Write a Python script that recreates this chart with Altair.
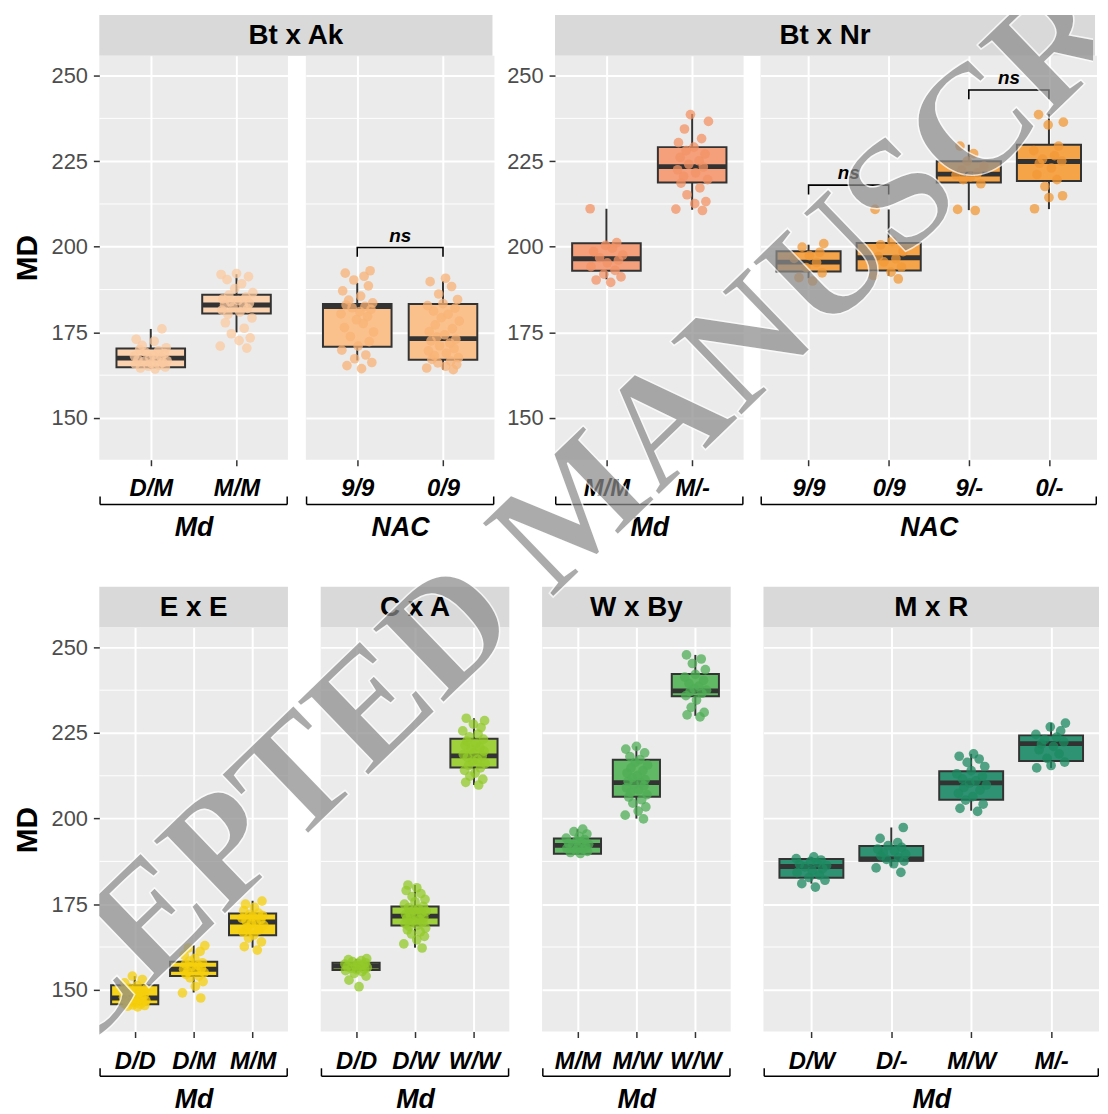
import json
import altair as alt
import pandas as pd

FONT = "Liberation Sans"
Y_DOMAIN = [137.8, 255.8]
Y_TICKS = [150, 175, 200, 225, 250]
Y_MINOR = [162.5, 187.5, 212.5, 237.5]
JITTER = [0.05, -0.12, 0.17, -0.03, 0.10, -0.18, 0.01, 0.14, -0.08, 0.19,
          -0.15, 0.07, -0.01, 0.12, -0.19, 0.03, 0.16, -0.06, 0.09, -0.13,
          0.18, -0.10, 0.04, -0.17, 0.13, -0.04, 0.08, -0.14, 0.15, -0.07,
          0.02, -0.16, 0.11, -0.09, 0.19, -0.02, 0.06, -0.11, 0.14, -0.18,
          0.00, 0.17, -0.05, 0.10, -0.15, 0.03, -0.12, 0.16, -0.08, 0.07,
          -0.19, 0.12, -0.01, 0.18, -0.13, 0.05, -0.10, 0.09, -0.16, 0.13]
WATERMARK = "ACCEPTED MANUSCRIPT"

# ---------------- Bt x Ak ----------------
AK_MD_CATS = ["D/M", "M/M"]
AK_MD_LOW = [164.3, 175.0]
AK_MD_Q1 = [164.8, 180.5]
AK_MD_MED = [167.5, 183.0]
AK_MD_Q3 = [170.3, 186.0]
AK_MD_HIGH = [176.0, 192.0]
AK_MD_PTS_DM = [164.3, 164.6, 164.9, 165.1, 165.4, 165.7, 165.9, 166.2, 166.5, 166.7, 167.0, 167.3, 167.5,
                167.8, 168.1, 168.4, 168.8, 169.2, 169.6, 170.0, 170.5, 171.2, 172.4, 173.0, 176.0]
AK_MD_PTS_MM = [170.4, 171.0, 172.6, 173.4, 174.6, 176.2, 177.8, 179.2, 180.3, 180.9, 181.5, 182.0, 182.4, 182.8,
                183.1, 183.5, 183.9, 184.3, 184.8, 185.3, 185.9, 186.6, 187.8, 189.2, 190.4, 191.3, 191.9, 192.2]

AK_NAC_CATS = ["9/9", "0/9"]
AK_NAC_LOW = [166.8, 164.1]
AK_NAC_Q1 = [170.8, 167.0]
AK_NAC_MED = [182.5, 173.2]
AK_NAC_Q3 = [183.3, 183.3]
AK_NAC_HIGH = [189.5, 190.0]
AK_NAC_PTS_99 = [164.4, 165.3, 166.2, 167.3, 168.4, 169.8, 171.0, 172.3, 173.8, 175.1, 176.4, 177.6, 178.7, 179.6,
                 180.4, 181.1, 181.7, 182.2, 182.6, 183.0, 183.6, 184.4, 185.6, 187.1, 188.6, 190.3, 191.4, 192.3, 193.0]
AK_NAC_PTS_09 = [164.1, 164.6, 165.1, 165.6, 166.1, 166.6, 167.1, 167.6, 168.2, 168.9, 169.6, 170.3, 171.1, 171.9,
                 172.5, 173.0, 173.6, 174.3, 175.2, 176.1, 177.2, 178.3, 179.3, 180.3, 181.2, 182.1, 182.8, 183.4,
                 184.6, 186.2, 188.4, 189.8, 190.8]
AK_NAC_NS = [["9/9", "0/9", 199.8]]

# ---------------- Bt x Nr ----------------
NR_MD_CATS = ["M/M", "M/-"]
NR_MD_LOW = [190.5, 210.8]
NR_MD_Q1 = [193.0, 218.8]
NR_MD_MED = [196.5, 223.4]
NR_MD_Q3 = [201.0, 229.1]
NR_MD_HIGH = [211.1, 238.8]
NR_MD_PTS_MM = [189.6, 190.3, 191.2, 192.0, 193.1, 194.2, 195.3, 196.1, 196.8, 197.6, 198.6, 199.6, 200.4, 201.2, 211.1]
NR_MD_PTS_MX = [210.6, 211.0, 212.6, 213.2, 215.2, 217.2, 218.6, 219.6, 220.6, 221.6, 222.5, 223.3, 224.1, 225.1,
                226.1, 227.1, 228.1, 229.1, 230.4, 231.6, 234.4, 236.6, 238.6]

NR_NAC_CATS = ["9/9", "0/9", "9/-", "0/-"]
NR_NAC_LOW = [190.8, 191.5, 210.7, 211.0]
NR_NAC_Q1 = [192.8, 193.1, 218.8, 219.2]
NR_NAC_MED = [195.5, 196.8, 221.2, 224.9]
NR_NAC_Q3 = [198.7, 201.1, 225.0, 229.8]
NR_NAC_HIGH = [200.6, 210.9, 229.8, 238.8]
NR_NAC_PTS_99 = [190.0, 191.0, 192.4, 193.9, 195.4, 196.6, 197.4, 198.4, 199.9, 200.9]
NR_NAC_PTS_09 = [190.6, 191.6, 192.6, 194.1, 195.6, 196.5, 197.1, 198.6, 200.6, 201.6, 210.9]
NR_NAC_PTS_9X = [210.6, 210.9, 218.4, 219.6, 220.4, 221.0, 221.6, 222.4, 223.6, 225.0, 227.2, 229.4]
NR_NAC_PTS_0X = [211.1, 214.4, 214.9, 217.6, 219.6, 221.1, 223.0, 224.4, 225.0, 225.6, 226.6, 228.1, 229.4,
                 235.6, 236.4, 238.6]
NR_NAC_NS = [["9/9", "0/9", 218.0], ["9/-", "0/-", 245.8]]

# ---------------- E x E ----------------
EE_CATS = ["D/D", "D/M", "M/M"]
EE_LOW = [145.0, 149.2, 162.3]
EE_Q1 = [145.8, 154.0, 165.9]
EE_MED = [147.6, 156.0, 169.8]
EE_Q3 = [151.3, 158.2, 172.3]
EE_HIGH = [154.0, 163.0, 176.0]
EE_PTS_DD = [145.0, 145.2, 145.4, 145.6, 145.8, 146.0, 146.2, 146.4, 146.6, 146.8, 147.0, 147.2, 147.4, 147.6,
             147.8, 148.1, 148.4, 148.8, 149.2, 149.6, 150.1, 150.6, 151.2, 152.0, 153.0, 154.0]
EE_PTS_DM = [147.6, 149.1, 151.0, 152.4, 153.5, 154.0, 154.5, 155.0, 155.3, 155.7, 156.0, 156.3, 156.7, 157.1,
             157.5, 157.9, 158.4, 159.2, 160.1, 161.2, 162.2, 162.9]
EE_PTS_MM = [161.6, 162.6, 164.0, 165.1, 166.0, 166.8, 167.5, 168.2, 168.8, 169.3, 169.7, 170.1, 170.5, 170.9,
             171.3, 171.7, 172.0, 172.4, 173.1, 174.1, 175.0, 175.9]

# ---------------- C x A ----------------
CA_CATS = ["D/D", "D/W", "W/W"]
CA_LOW = [155.0, 162.3, 209.8]
CA_Q1 = [155.8, 168.8, 214.9]
CA_MED = [156.9, 171.5, 218.3]
CA_Q3 = [157.9, 174.3, 223.3]
CA_HIGH = [159.0, 180.6, 229.3]
CA_PTS_DD = [150.9, 152.8, 154.0, 154.8, 155.3, 155.6, 155.9, 156.1, 156.3, 156.5, 156.7, 156.9, 157.1, 157.3,
             157.5, 157.7, 157.9, 158.2, 158.5, 158.8, 159.1]
CA_PTS_DW = [162.2, 163.4, 164.6, 165.6, 166.3, 166.9, 167.5, 168.0, 168.5, 168.9, 169.3, 169.7, 170.1, 170.5,
             170.8, 171.1, 171.4, 171.7, 172.0, 172.3, 172.6, 172.9, 173.2, 173.6, 174.0, 174.4, 175.0, 175.7,
             176.4, 177.2, 178.1, 179.0, 179.8, 180.6]
CA_PTS_WW = [209.8, 210.6, 211.5, 212.4, 213.3, 214.1, 214.8, 215.5, 216.1, 216.7, 217.3, 217.9, 218.3, 218.7,
             219.2, 219.7, 220.2, 220.8, 221.4, 222.0, 222.6, 223.2, 223.9, 224.7, 225.6, 226.6, 227.6, 228.6, 229.3]

# ---------------- W x By ----------------
WB_CATS = ["M/M", "M/W", "W/W"]
WB_LOW = [189.7, 200.0, 230.0]
WB_Q1 = [189.7, 206.4, 235.7]
WB_MED = [192.2, 210.5, 237.3]
WB_Q3 = [194.2, 217.2, 242.2]
WB_HIGH = [196.9, 221.1, 247.8]
WB_PTS_MM = [189.8, 190.1, 190.4, 190.7, 191.0, 191.3, 191.6, 191.9, 192.2, 192.5, 192.8, 193.1, 193.5, 193.9,
             194.3, 194.8, 195.5, 196.2, 196.9]
WB_PTS_MW = [199.9, 201.0, 202.2, 203.4, 204.5, 205.5, 206.3, 207.0, 207.7, 208.4, 209.0, 209.6, 210.1, 210.5,
             210.9, 211.4, 212.0, 212.6, 213.3, 214.0, 214.8, 215.6, 216.4, 217.2, 218.1, 219.2, 220.3, 221.1]
WB_PTS_WW = [229.7, 230.3, 231.0, 232.5, 234.6, 235.9, 236.6, 237.1, 237.5, 238.0, 238.7, 239.5, 240.4, 241.3,
             242.1, 243.5, 245.3, 246.6, 247.8]

# ---------------- M x R ----------------
MR_CATS = ["D/W", "D/-", "M/W", "M/-"]
MR_LOW = [181.0, 186.0, 202.3, 214.8]
MR_Q1 = [182.7, 187.7, 205.5, 216.8]
MR_MED = [186.0, 188.2, 210.4, 221.9]
MR_Q3 = [188.2, 192.0, 213.8, 224.3]
MR_HIGH = [188.8, 197.4, 218.9, 227.9]
MR_PTS_DW = [180.0, 181.0, 182.0, 182.8, 183.5, 184.2, 184.8, 185.4, 185.9, 186.3, 186.7, 187.1, 187.5, 187.9,
             188.3, 188.8]
MR_PTS_DX = [184.3, 185.6, 186.8, 187.6, 188.1, 188.6, 189.1, 189.6, 190.1, 190.6, 191.1, 191.6, 192.1, 193.0,
             194.2, 197.4]
MR_PTS_MW = [202.1, 203.0, 204.2, 205.4, 206.4, 207.4, 208.3, 209.1, 209.8, 210.4, 211.0, 211.6, 212.3, 213.1,
             214.0, 215.2, 216.4, 217.4, 218.2, 218.9]
MR_PTS_MX = [214.8, 215.5, 216.5, 217.6, 218.9, 220.1, 221.1, 221.8, 222.4, 223.1, 223.8, 224.6, 225.6, 226.8, 227.9]

# colours: (box fill, points)
COL_AK_MD = ("#fcd3b0", "#fbc9a0")
COL_AK_NAC = ("#fbc18c", "#f8b377")
COL_NR_MD = ("#f5a07c", "#f39366")
COL_NR_NAC = ("#f5a449", "#f29a38")
COL_EE = ("#f6d219", "#f5cf0c")
COL_CA = ("#9fd13c", "#93ca2a")
COL_WB = ("#62b965", "#4fae56")
COL_MR = ("#2f9373", "#1d8a62")

STRIP_H = 41
DARK = "#333333"
BOX_HALF = 0.4
MED_HALF = 0.7


def panel(cats, low, q1, med, q3, high, pts, colors, width, height, xtitle, ymode, brackets=(),
          label_pad=11, title_pad=14, title_size=27, bracket_off=45):
    box_col, pt_col = colors
    n = len(cats)
    idx = list(range(1, n + 1))
    box = pd.DataFrame({"i": idx, "low": low, "q1": q1, "med": med, "q3": q3, "high": high})
    rows = []
    for ci, vals in enumerate(pts):
        for k, v in enumerate(vals):
            rows.append({"i": ci + 1, "val": v, "jit": JITTER[(k + 13 * ci) % len(JITTER)]})
    ptdf = pd.DataFrame(rows)

    xs = alt.Scale(domain=[0.4, n + 0.6], nice=False, zero=False)
    ys = alt.Scale(domain=Y_DOMAIN, nice=False, zero=False)
    xa = alt.Axis(title=xtitle, values=idx, labelExpr=json.dumps(cats) + "[datum.value - 1]",
                  labelAngle=0, labelFont=FONT, labelFontSize=24, labelFontWeight="bold",
                  labelFontStyle="italic", labelColor="black", labelPadding=label_pad, labelOverlap=False,
                  labelFlush=False, tickSize=6, tickColor=DARK, tickWidth=1.5, domain=False, grid=True,
                  gridColor="white", gridWidth=2, titleFont=FONT, titleFontSize=title_size,
                  titleFontWeight="bold", titleFontStyle="italic", titleColor="black", titlePadding=title_pad)
    if ymode == "none":
        ya = alt.Axis(values=Y_TICKS, grid=True, gridColor="white", gridWidth=2, labels=False, ticks=False,
                      domain=False, title=None)
    else:
        ya = alt.Axis(values=Y_TICKS, grid=True, gridColor="white", gridWidth=2, labels=True, ticks=True,
                      tickSize=6, tickColor=DARK, tickWidth=1.5, domain=False, labelFont=FONT,
                      labelFontSize=22, labelColor="#4d4d4d", labelPadding=6,
                      title=("MD" if ymode == "title" else None), titleFont=FONT, titleFontSize=30,
                      titleFontWeight="bold", titleColor="black", titlePadding=9)

    def X(f):
        return alt.X(f, type="quantitative", scale=xs, axis=xa)

    def Y(f):
        return alt.Y(f, type="quantitative", scale=ys, axis=ya)

    minor = alt.Chart(pd.DataFrame({"y": Y_MINOR})).mark_rule(color="white", strokeWidth=1).encode(y=Y("y"))
    whisk = alt.Chart(box).mark_rule(color=DARK, strokeWidth=2).encode(x=X("i"), y=Y("low"), y2="high:Q")
    boxes = (alt.Chart(box)
             .transform_calculate(xl="datum.i - %f" % BOX_HALF, xr="datum.i + %f" % BOX_HALF)
             .mark_rect(fill=box_col, stroke=DARK, strokeWidth=2)
             .encode(x=X("xl"), x2="xr:Q", y=Y("q1"), y2="q3:Q"))
    meds = (alt.Chart(box)
            .transform_calculate(xl="datum.i - %f" % BOX_HALF, xr="datum.i + %f" % BOX_HALF,
                                 mlo="datum.med - %f" % MED_HALF, mhi="datum.med + %f" % MED_HALF)
            .mark_rect(color=DARK).encode(x=X("xl"), x2="xr:Q", y=Y("mlo"), y2="mhi:Q"))
    points = (alt.Chart(ptdf)
              .transform_calculate(xp="datum.i + datum.jit")
              .mark_circle(size=95, color=pt_col, opacity=0.75)
              .encode(x=X("xp"), y=Y("val")))
    layers = [minor, whisk, boxes, meds, points]

    if brackets:
        brows, trows = [], []
        for bi, (c1, c2, yb) in enumerate(brackets):
            i1, i2 = cats.index(c1) + 1, cats.index(c2) + 1
            brows += [{"b": bi, "o": 0, "bx": i1, "by": yb - 2.7},
                      {"b": bi, "o": 1, "bx": i1, "by": yb},
                      {"b": bi, "o": 2, "bx": i2, "by": yb},
                      {"b": bi, "o": 3, "bx": i2, "by": yb - 2.7}]
            trows.append({"tx": (i1 + i2) / 2, "ty": yb + 3.4, "t": "ns"})
        bline = (alt.Chart(pd.DataFrame(brows)).mark_line(color="black", strokeWidth=1.6)
                 .encode(x=X("bx"), y=Y("by"), order="o:Q", detail="b:N"))
        btext = (alt.Chart(pd.DataFrame(trows))
                 .mark_text(font=FONT, fontSize=19, fontWeight="bold", fontStyle="italic", color="black",
                            baseline="middle")
                 .encode(x=X("tx"), y=Y("ty"), text="t:N"))
        layers += [bline, btext]

    deco = pd.DataFrame({"k": [0]})
    yb = height + bracket_off
    hline = alt.Chart(deco).mark_rule(color="black", strokeWidth=1.5).encode(
        x=alt.value(0.75), x2=alt.value(width - 0.75), y=alt.value(yb))
    lt = alt.Chart(deco).mark_rule(color="black", strokeWidth=1.5).encode(
        x=alt.value(0.75), y=alt.value(yb - 8), y2=alt.value(yb))
    rt = alt.Chart(deco).mark_rule(color="black", strokeWidth=1.5).encode(
        x=alt.value(width - 0.75), y=alt.value(yb - 8), y2=alt.value(yb))
    layers += [hline, lt, rt]
    return alt.layer(*layers).properties(width=width, height=height)


def strip(label, width):
    return (alt.Chart(pd.DataFrame({"label": [label]}))
            .mark_text(font=FONT, fontSize=28, fontWeight="bold", color="black", baseline="middle", align="center")
            .encode(text="label:N", x=alt.value(width / 2), y=alt.value(STRIP_H / 2 + 1))
            .properties(width=width, height=STRIP_H, view=alt.ViewBackground(fill="#d9d9d9", stroke=None)))


W2 = 190
W4T = 339
W4B = 338
HT = 407
HB = 407
BOT = dict(label_pad=12, title_pad=13, title_size=27, bracket_off=45)

pA1 = panel(AK_MD_CATS, AK_MD_LOW, AK_MD_Q1, AK_MD_MED, AK_MD_Q3, AK_MD_HIGH,
            [AK_MD_PTS_DM, AK_MD_PTS_MM], COL_AK_MD, W2, HT, "Md", "title")
pA2 = panel(AK_NAC_CATS, AK_NAC_LOW, AK_NAC_Q1, AK_NAC_MED, AK_NAC_Q3, AK_NAC_HIGH,
            [AK_NAC_PTS_99, AK_NAC_PTS_09], COL_AK_NAC, W2, HT, "NAC", "none", AK_NAC_NS)
pB1 = panel(NR_MD_CATS, NR_MD_LOW, NR_MD_Q1, NR_MD_MED, NR_MD_Q3, NR_MD_HIGH,
            [NR_MD_PTS_MM, NR_MD_PTS_MX], COL_NR_MD, W2, HT, "Md", "labels")
pB2 = panel(NR_NAC_CATS, NR_NAC_LOW, NR_NAC_Q1, NR_NAC_MED, NR_NAC_Q3, NR_NAC_HIGH,
            [NR_NAC_PTS_99, NR_NAC_PTS_09, NR_NAC_PTS_9X, NR_NAC_PTS_0X], COL_NR_NAC, W4T, HT, "NAC", "none",
            NR_NAC_NS)

pE = panel(EE_CATS, EE_LOW, EE_Q1, EE_MED, EE_Q3, EE_HIGH, [EE_PTS_DD, EE_PTS_DM, EE_PTS_MM],
           COL_EE, W2, HB, "Md", "title", **BOT)
pC = panel(CA_CATS, CA_LOW, CA_Q1, CA_MED, CA_Q3, CA_HIGH, [CA_PTS_DD, CA_PTS_DW, CA_PTS_WW],
           COL_CA, W2, HB, "Md", "none", **BOT)
pW = panel(WB_CATS, WB_LOW, WB_Q1, WB_MED, WB_Q3, WB_HIGH, [WB_PTS_MM, WB_PTS_MW, WB_PTS_WW],
           COL_WB, W2, HB, "Md", "none", **BOT)
pM = panel(MR_CATS, MR_LOW, MR_Q1, MR_MED, MR_Q3, MR_HIGH, [MR_PTS_DW, MR_PTS_DX, MR_PTS_MW, MR_PTS_MX],
           COL_MR, W4B, HB, "Md", "none", **BOT)

gA = alt.vconcat(strip("Bt x Ak", W2 + 16 + W2), alt.hconcat(pA1, pA2, spacing=16), spacing=0)
gB = alt.vconcat(strip("Bt x Nr", W2 + 15 + W4T), alt.hconcat(pB1, pB2, spacing=15), spacing=0)
gE = alt.vconcat(strip("E x E", W2), pE, spacing=0)
gC = alt.vconcat(strip("C x A", W2), pC, spacing=0)
gW = alt.vconcat(strip("W x By", W2), pW, spacing=0)
gM = alt.vconcat(strip("M x R", W4B), pM, spacing=0)

row_top = alt.hconcat(gA, gB, spacing=11)
row_bottom = alt.hconcat(gE, gC, gW, gM, spacing=31)
main = alt.vconcat(row_top, row_bottom, spacing=47)

# diagonal "ACCEPTED MANUSCRIPT" watermark laid over the figure (flush bounds -> same origin)
WM_W, WM_H = 1001, 1097
wm = (alt.Chart(pd.DataFrame({"t": [WATERMARK]}))
      .mark_text(font="Liberation Serif", fontSize=158, fontWeight="bold", angle=316, align="center",
                 baseline="middle", color="#8c8c8c", opacity=0.72, stroke="white", strokeWidth=1.5, clip=True)
      .encode(text="t:N", x=alt.value(481), y=alt.value(498))
      .properties(width=WM_W, height=WM_H,
                  view=alt.ViewBackground(fill="transparent", stroke="transparent", strokeWidth=0)))

chart = (alt.vconcat(main, wm, spacing=0, bounds="flush")
         .properties(padding={"left": 4, "top": 3, "right": 0, "bottom": 0}, background="white")
         .configure_view(stroke=None, fill="#ebebeb")
         .configure_axis(labelFont=FONT, titleFont=FONT)
         .configure_text(font=FONT))

chart.save("out.html", embed_options={"renderer": "svg", "actions": False})
